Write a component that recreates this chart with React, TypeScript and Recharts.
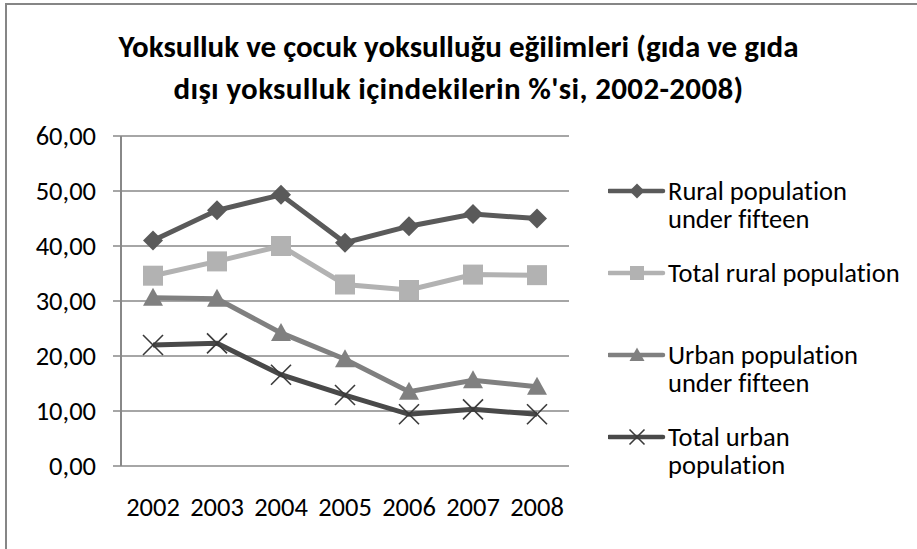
import React from 'react';
import { LineChart, Line, XAxis, YAxis, CartesianGrid, Legend } from 'recharts';

const years = [2002, 2003, 2004, 2005, 2006, 2007, 2008];
const ruralUnder15 = [41.0, 46.5, 49.3, 40.6, 43.6, 45.8, 45.0];
const ruralTotal = [34.6, 37.2, 40.0, 33.0, 32.0, 34.8, 34.7];
const urbanUnder15 = [30.6, 30.4, 24.2, 19.4, 13.5, 15.6, 14.4];
const urbanTotal = [22.0, 22.3, 16.6, 12.9, 9.4, 10.3, 9.4];
const yTicks = [0, 10, 20, 30, 40, 50, 60];
const boundaryTicks = [2001.5, 2002.5, 2003.5, 2004.5, 2005.5, 2006.5, 2007.5, 2008.5];

const titleLines = [
  'Yoksulluk ve çocuk yoksulluğu eğilimleri (gıda ve gıda',
  "dışı yoksulluk içindekilerin %'si, 2002-2008)",
];

const seriesMeta = [
  { key: 'ruralUnder15', label: 'Rural population\nunder fifteen', color: '#5a5a5a', marker: 'diamond' },
  { key: 'ruralTotal', label: 'Total rural population', color: '#b2b2b2', marker: 'square' },
  { key: 'urbanUnder15', label: 'Urban population\nunder fifteen', color: '#808080', marker: 'triangle' },
  { key: 'urbanTotal', label: 'Total urban\npopulation', color: '#494949', marker: 'x' },
];

const data = years.map((y, i) => ({
  year: y,
  ruralUnder15: ruralUnder15[i],
  ruralTotal: ruralTotal[i],
  urbanUnder15: urbanUnder15[i],
  urbanTotal: urbanTotal[i],
}));

const FONT = "Carlito, Calibri, 'Open Sans', sans-serif";
const TICK_FS = 26.5;

function Marker({ kind, cx, cy, s, color }: { kind: string; cx: number; cy: number; s: number; color: string }) {
  if (kind === 'diamond') {
    return <polygon points={`${cx},${cy - s} ${cx + s},${cy} ${cx},${cy + s} ${cx - s},${cy}`} fill={color} />;
  }
  if (kind === 'square') {
    return <rect x={cx - s} y={cy - s} width={2 * s} height={2 * s} fill={color} />;
  }
  if (kind === 'triangle') {
    return <polygon points={`${cx},${cy - s} ${cx + s},${cy + s * 0.8} ${cx - s},${cy + s * 0.8}`} fill={color} />;
  }
  return (
    <g stroke="#3a3a3a" strokeWidth={1.6}>
      <line x1={cx - s} y1={cy - s} x2={cx + s} y2={cy + s} />
      <line x1={cx - s} y1={cy + s} x2={cx + s} y2={cy - s} />
    </g>
  );
}

const makeDot = (kind: string, color: string) => (props: any) => {
  const { cx, cy, index } = props;
  if (cx == null || cy == null) return <g key={index} />;
  return (
    <g key={`${kind}-${index}`}>
      <Marker kind={kind} cx={cx} cy={cy} s={10} color={color} />
    </g>
  );
};

function LegendContent() {
  return (
    <div style={{ fontFamily: FONT, fontSize: TICK_FS, color: '#000', fontVariantLigatures: 'none' }}>
      {seriesMeta.map((m) => (
        <div key={m.key} style={{ height: 82, display: 'flex', alignItems: 'flex-start' }}>
          <svg width={60} height={28} style={{ flex: 'none' }}>
            <line x1={1} y1={14} x2={55} y2={14} stroke={m.color} strokeWidth={4.5} strokeLinecap="round" />
            <Marker kind={m.marker} cx={29} cy={14} s={m.marker === 'square' ? 7 : 7.5} color={m.color} />
          </svg>
          <div style={{ whiteSpace: 'pre-line', lineHeight: '28px' }}>{m.label}</div>
        </div>
      ))}
    </div>
  );
}

export default function App() {
  return (
    <div
      style={{
        position: 'absolute',
        left: 0,
        top: 0,
        width: 917,
        height: 549,
        overflow: 'hidden',
        background: '#fff',
        fontFamily: FONT,
      }}
    >
      <div
        style={{
          position: 'absolute',
          left: 5,
          top: 3,
          width: 940,
          height: 580,
          border: '2px solid #868686',
          boxSizing: 'border-box',
        }}
      />
      <div
        style={{
          position: 'absolute',
          left: 0,
          top: 25,
          width: 917,
          textAlign: 'center',
          fontWeight: 'bold',
          fontSize: 31,
          lineHeight: '42px',
          color: '#000',
          fontVariantLigatures: 'none',
        }}
      >
        {titleLines.map((t, i) => (
          <div key={t} style={{ letterSpacing: i === 1 ? '0.35px' : undefined }}>{t}</div>
        ))}
      </div>
      <div style={{ position: 'absolute', left: 0, top: 0 }}>
        <LineChart width={917} height={549} data={data} margin={{ top: 136, right: 43, bottom: 0, left: 0 }}>
          <CartesianGrid vertical={false} stroke="#888" strokeWidth={1.5} />
          <XAxis
            xAxisId="b"
            type="number"
            dataKey="year"
            domain={[2001.5, 2008.5]}
            ticks={boundaryTicks}
            interval={0}
            tick={false}
            tickSize={7}
            height={0}
            axisLine={{ stroke: '#888', strokeWidth: 2 }}
            tickLine={{ stroke: '#888', strokeWidth: 2 }}
          />
          <XAxis
            type="number"
            dataKey="year"
            domain={[2001.5, 2008.5]}
            ticks={years}
            interval={0}
            height={83}
            axisLine={false}
            tickLine={false}
            tickSize={0}
            tickMargin={31}
            tick={{ fill: '#000', fontSize: TICK_FS }}
          />
          <YAxis
            width={121}
            domain={[0, 60]}
            ticks={yTicks}
            interval={0}
            tickSize={8}
            tickMargin={17}
            tickFormatter={(v: number) => v.toFixed(2).replace('.', ',')}
            tick={{ fill: '#000', fontSize: TICK_FS }}
            axisLine={{ stroke: '#888', strokeWidth: 2 }}
            tickLine={{ stroke: '#888', strokeWidth: 1.5 }}
          />
          <Legend
            layout="vertical"
            align="right"
            verticalAlign="top"
            content={<LegendContent />}
            wrapperStyle={{ left: 608, top: 177, width: 305 }}
          />
          {seriesMeta.map((m) => (
            <Line
              key={m.key}
              dataKey={m.key}
              name={m.label}
              stroke={m.color}
              strokeWidth={5}
              dot={makeDot(m.marker, m.color)}
              activeDot={false}
              isAnimationActive={false}
            />
          ))}
        </LineChart>
      </div>
    </div>
  );
}
